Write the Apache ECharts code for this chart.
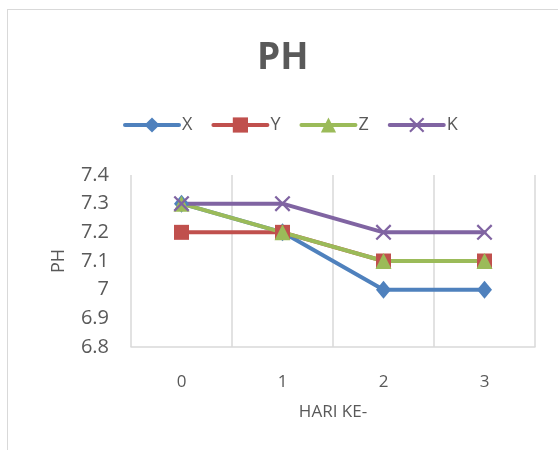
<!DOCTYPE html>
<html><head><meta charset="utf-8">
<script src="https://cdn.jsdelivr.net/npm/echarts@6/dist/echarts.min.js"></script>
<style>html,body{margin:0;padding:0;background:#fff}#c{width:558px;height:450px;position:relative}
#frame{position:absolute;left:7px;top:9px;width:600px;height:500px;border:1.5px solid #d9d9d9;box-sizing:border-box;pointer-events:none}</style>
</head><body><div id="c"></div><div id="frame"></div>
<script>
const categories = ['0','1','2','3'];
const seriesNames = ['X','Y','Z','K'];
const xValues = [7.3, 7.2, 7.0, 7.0];
const yValues = [7.2, 7.2, 7.1, 7.1];
const zValues = [7.3, 7.2, 7.1, 7.1];
const kValues = [7.3, 7.3, 7.2, 7.2];
const titleText = 'PH';
const xAxisName = 'HARI KE-';
const yAxisName = 'PH';

const font = '"Open Sans", "Liberation Sans", sans-serif';
const crossPath = 'path://M0,1 L1,0 L5,4 L9,0 L10,1 L6,5 L10,9 L9,10 L5,6 L1,10 L0,9 L4,5 Z';
const colors = ['#4f81bd','#c0504d','#9bbb59','#8064a2'];
const symbols = ['diamond','rect','triangle',crossPath];
const sizes = [[15,18],15,16,16];
const dataArr = [xValues,yValues,zValues,kValues];

const chart = echarts.init(document.getElementById('c'), null, {renderer:'canvas'});
chart.setOption({
  animation:false,
  color: colors,
  title:{text:titleText,left:252,top:35,textStyle:{fontFamily:font,fontSize:37,fontWeight:'bold',color:'#595959'}},
  legend:{top:116,left:123,padding:0,itemWidth:54,itemHeight:19,itemGap:19,
    lineStyle:{width:4},
    textStyle:{fontFamily:font,fontSize:18,color:'#595959',padding:[0,0,0,-2]},
    data:seriesNames},
  grid:{left:131,right:23,top:175,bottom:103,containLabel:false},
  xAxis:{type:'category',data:categories,boundaryGap:true,
    name:xAxisName,nameLocation:'middle',nameGap:57,
    nameTextStyle:{fontFamily:font,fontSize:17,color:'#595959'},
    axisLine:{lineStyle:{color:'#d9d9d9',width:1.5}},
    axisTick:{show:false},
    splitLine:{show:true,lineStyle:{color:'#d9d9d9',width:1.5}},
    axisLabel:{fontFamily:font,fontSize:17,color:'#595959',margin:27}},
  yAxis:{type:'value',min:6.8,max:7.4,interval:0.1,
    name:yAxisName,nameLocation:'middle',nameGap:63,nameRotate:90,
    nameTextStyle:{fontFamily:font,fontSize:18,color:'#595959'},
    axisLine:{show:false},axisTick:{show:false},
    splitLine:{show:false},
    axisLabel:{fontFamily:font,fontSize:20,color:'#595959',margin:22,
      formatter:v=>String(Math.round(v*10)/10)}},
  series: seriesNames.map((n,i)=>({
    name:n,type:'line',data:dataArr[i],symbol:symbols[i],symbolSize:sizes[i],
    showAllSymbol:true,
    lineStyle:{width:4,color:colors[i],cap:'round'},
    itemStyle:{color:colors[i]}
  }))
});
</script></body></html>
